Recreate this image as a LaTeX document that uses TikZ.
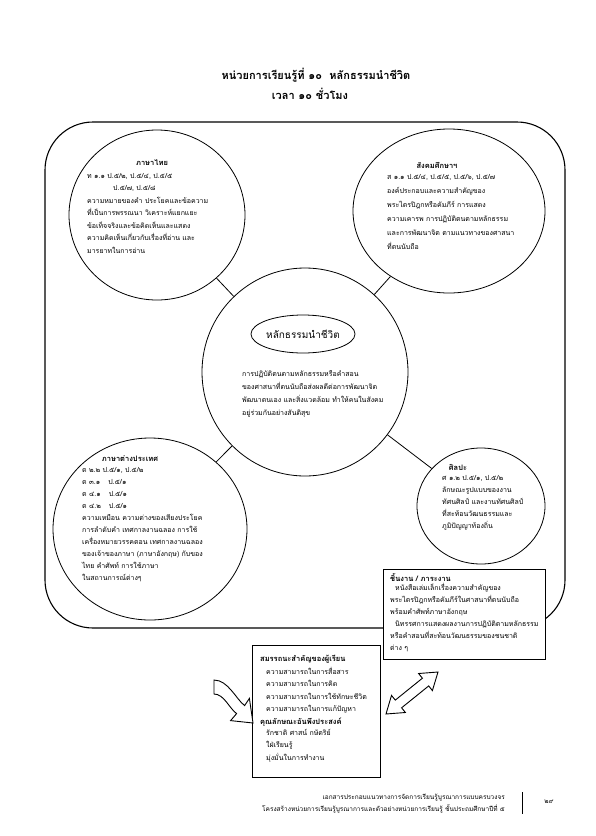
\documentclass[tikz,border=0pt]{standalone}
\usepackage{fontspec}
\setmainfont[Script=Thai]{Loma}
\usetikzlibrary{shapes.geometric}
\begin{document}
\begin{tikzpicture}[x=1pt,y=-1pt,
  circ/.style={draw, ellipse, line width=0.8pt, inner sep=0pt},
  txt/.style={anchor=north west, inner sep=0pt, align=left, font=\fontsize{7}{12.5}\selectfont},
  hd/.style={inner sep=0pt, font=\fontsize{7.5}{9}\selectfont\bfseries},
  conn/.style={line width=0.8pt},
  boxst/.style={draw, line width=1pt, fill=white, inner sep=0pt, anchor=north west},
  blockarrow/.style={draw, line width=0.9pt, fill=white, line join=miter}
]
\fill[white] (0,0) rectangle (595,836);
\useasboundingbox (0,0) rectangle (595,836);

% title
\node[font=\fontsize{11}{13}\selectfont\bfseries, inner sep=0pt] (title1) at (316,75) {หน่วยการเรียนรู้ที่ ๑๐\ \ หลักธรรมนำชีวิต};
\node[font=\fontsize{11}{13}\selectfont\bfseries, inner sep=0pt] (title2) at (310,94) {เวลา ๑๐ ชั่วโมง};

% frame
\node[draw, line width=1.1pt, rounded corners=48pt, minimum width=520pt, minimum height=506pt, inner sep=0pt] (frame) at (305,375) {};

% circles
\node[circ, minimum width=176pt, minimum height=170pt] (thai) at (157,215) {};
\node[circ, minimum width=192pt, minimum height=164pt] (social) at (449,211) {};
\node[circ, minimum width=206pt, minimum height=208pt] (core) at (305,372) {};
\node[circ, minimum width=194pt, minimum height=182pt] (foreign) at (150,529) {};
\node[circ, minimum width=128pt, minimum height=116pt] (art) at (481,506) {};
\node[circ, minimum width=100pt, minimum height=38pt, font=\fontsize{10}{12}\selectfont] (coretitle) at (303,334) {หลักธรรมนำชีวิต};

\draw[conn] (core) -- (thai);
\draw[conn] (core) -- (social);
\draw[conn] (core) -- (foreign);
\draw[conn] (core) -- (art);

% texts in circles
\node[hd] (thaih) at (152,163) {ภาษาไทย};
\node[txt] (thait) at (87,173) {ท ๑.๑ ป.๕/๒, ป.๕/๔, ป.๕/๕\\
\hspace*{26pt}ป.๕/๗, ป.๕/๘\\
ความหมายของคำ ประโยคและข้อความ\\
ที่เป็นการพรรณนา วิเคราะห์แยกแยะ\\
ข้อเท็จจริงและข้อคิดเห็นและแสดง\\
ความคิดเห็นเกี่ยวกับเรื่องที่อ่าน และ\\
มารยาทในการอ่าน};

\node[hd] (socialh) at (437,165) {สังคมศึกษาฯ};
\node[txt, font=\fontsize{7}{14}\selectfont] (socialt) at (387,174) {ส ๑.๑ ป.๕/๔, ป.๕/๕, ป.๕/๖, ป.๕/๗\\
องค์ประกอบและความสำคัญของ\\
พระไตรปิฎกหรือคัมภีร์ การแสดง\\
ความเคารพ การปฏิบัติตนตามหลักธรรม\\
และการพัฒนาจิต ตามแนวทางของศาสนา\\
ที่ตนนับถือ};

\node[txt, font=\fontsize{7}{13}\selectfont] (coret) at (242,370) {การปฏิบัติตนตามหลักธรรมหรือคำสอน\\
ของศาสนาที่ตนนับถือส่งผลดีต่อการพัฒนาจิต\\
พัฒนาตนเอง และสิ่งแวดล้อม ทำให้คนในสังคม\\
อยู่ร่วมกันอย่างสันติสุข};

\node[hd] (foreignh) at (130,459) {ภาษาต่างประเทศ};
\node[txt, font=\fontsize{7}{12}\selectfont] (foreignt) at (82,467) {ต ๒.๒ ป.๕/๑, ป.๕/๒\\
ต ๓.๑\hspace*{8pt}ป.๕/๑\\
ต ๔.๑\hspace*{8pt}ป.๕/๑\\
ต ๔.๒\hspace*{8pt}ป.๕/๑\\
ความเหมือน ความต่างของเสียงประโยค\\
การลำดับคำ เทศกาลงานฉลอง การใช้\\
เครื่องหมายวรรคตอน เทศกาลงานฉลอง\\
ของเจ้าของภาษา (ภาษาอังกฤษ) กับของ\\
ไทย คำศัพท์ การใช้ภาษา\\
ในสถานการณ์ต่างๆ};

\node[hd] (arth) at (458,467) {ศิลปะ};
\node[txt, font=\fontsize{7}{12}\selectfont] (artt) at (442,475) {ศ ๑.๒ ป.๕/๑, ป.๕/๒\\
ลักษณะรูปแบบของงาน\\
ทัศนศิลป์ และงานทัศนศิลป์\\
ที่สะท้อนวัฒนธรรมและ\\
ภูมิปัญญาท้องถิ่น};

% task box
\node[boxst, minimum width=162pt, minimum height=90pt] (task) at (383,569) {};
\node[hd, anchor=west] (taskh) at (390,578) {ชิ้นงาน / ภาระงาน};
\node[txt, font=\fontsize{7}{12}\selectfont] (taskt) at (390,583) {\hspace*{5pt}หนังสือเล่มเล็กเรื่องความสำคัญของ\\
พระไตรปิฎกหรือคัมภีร์ในศาสนาที่ตนนับถือ\\
พร้อมคำศัพท์ภาษาอังกฤษ\\
\hspace*{5pt}นิทรรศการแสดงผลงานการปฏิบัติตามหลักธรรม\\
หรือคำสอนที่สะท้อนวัฒนธรรมของชนชาติ\\
ต่าง ๆ};

% competency box
\node[boxst, minimum width=128pt, minimum height=132pt] (comp) at (252,645) {};
\node[hd, anchor=west] (comph) at (260,659) {สมรรถนะสำคัญของผู้เรียน};
\node[txt, font=\fontsize{7}{12.5}\selectfont] (compt1) at (266,667) {ความสามารถในการสื่อสาร\\
ความสามารถในการคิด\\
ความสามารถในการใช้ทักษะชีวิต\\
ความสามารถในการแก้ปัญหา};
\node[hd, anchor=west] (comph2) at (260,722) {คุณลักษณะอันพึงประสงค์};
\node[txt, font=\fontsize{7}{12.5}\selectfont] (compt2) at (266,729) {รักชาติ ศาสน์ กษัตริย์\\
ใฝ่เรียนรู้\\
มุ่งมั่นในการทำงาน};

% curved block arrow pointing into the competency box
\draw[blockarrow] (214,680) .. controls (228,680) and (236,699) .. (244.6,705.6) -- (249.4,698.4) -- (253,723) -- (230.6,720.6) -- (236.6,713.6) .. controls (229,708) and (224,694) .. (214,694) -- cycle;

% double block arrow between competency box and task box
\draw[blockarrow] (386,714) -- (405.4,712.5) -- (401.6,707.8) -- (428.7,685.9) -- (432.4,690.6) -- (438,672) -- (418.6,673.5) -- (422.4,678.2) -- (395.3,700.1) -- (391.5,695.4) -- cycle;

% footer
\node[anchor=east, inner sep=0pt, font=\fontsize{6.5}{8}\selectfont] (foot1) at (505,798) {เอกสารประกอบแนวทางการจัดการเรียนรู้บูรณาการแบบครบวงจร};
\node[anchor=east, inner sep=0pt, font=\fontsize{6.5}{8}\selectfont] (foot2) at (505,809) {โครงสร้างหน่วยการเรียนรู้บูรณาการและตัวอย่างหน่วยการเรียนรู้ ชั้นประถมศึกษาปีที่ ๕};
\coordinate (bartop) at (522,792);
\coordinate (barbot) at (522,814);
\draw[line width=1pt] (bartop) -- (barbot);
\node[inner sep=0pt, font=\fontsize{6.5}{8}\selectfont] (pagenum) at (549,802) {๒๙};
\end{tikzpicture}
\end{document}
